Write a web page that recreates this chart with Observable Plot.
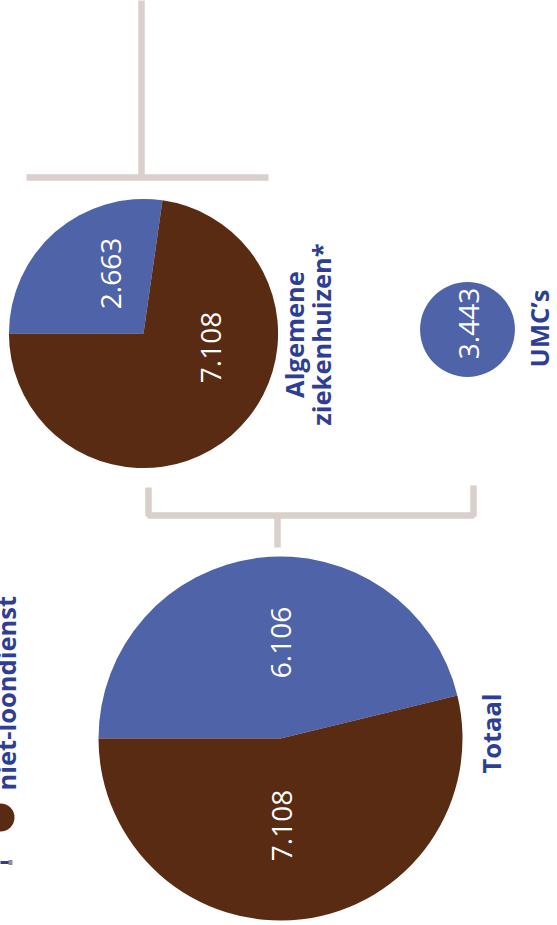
<!DOCTYPE html>
<html><head><meta charset="utf-8">
<script src="https://cdn.jsdelivr.net/npm/d3@7"></script>
<script src="https://cdn.jsdelivr.net/npm/@observablehq/plot@0.6"></script>
<style>
html,body{margin:0;padding:0;background:#fff;overflow:hidden}
#chart svg{display:block}
</style></head><body><div id="chart"></div>
<script>
// ---- data ----
const categories = ["Totaal", "Algemene\nziekenhuizen*", "UMC’s"];
const series = ["loondienst", "niet-loondienst"];
const loondienst = [6106, 2663, 3443];
const nietLoondienst = [7108, 7108, 0];

// ---- styles / layout (not data) ----
const W = 557, H = 925;
const colors = {"loondienst": "#4f63a9", "niet-loondienst": "#592b13"};
const textBlue = "#2e3e95";
const bracketColor = "#d9cfcb";
const layout = {
  "Totaal": {cx: 280, cy: 738, title: [492, 733],
    labels: {"loondienst": [2, -96], "niet-loondienst": [3, 87]}},
  "Algemene\nziekenhuizen*": {cx: 143, cy: 333, title: [308, 334],
    labels: {"loondienst": [-31, -60], "niet-loondienst": [69, 14]}},
  "UMC’s": {cx: 467, cy: 329, title: [540, 328],
    labels: {"loondienst": [3, -6]}}
};

const nl = d3.formatLocale({decimal: ",", thousands: ".", grouping: [3], currency: ["€", ""]});
const fmt = nl.format(",d");

const valuesBySeries = {"loondienst": loondienst, "niet-loondienst": nietLoondienst};
const pie = d3.pie().sort(null).value(d => d.value)
  .startAngle(-Math.PI / 2).endAngle(3 * Math.PI / 2);

const slices = categories.flatMap((c, i) => {
  const parts = series.map(s => ({
    category: c, series: s, value: valuesBySeries[s][i],
    total: loondienst[i] + nietLoondienst[i]
  }));
  return pie(parts).filter(a => a.data.value > 0)
    .map(a => ({...a.data, a0: a.startAngle, a1: a.endAngle}));
});

const sector = (a0, a1) => ({
  draw(ctx, size) {
    const r = Math.sqrt(size / Math.PI);
    if (a1 - a0 >= 2 * Math.PI - 1e-6) {
      ctx.moveTo(r, 0); ctx.arc(0, 0, r, 0, 2 * Math.PI); ctx.closePath(); return;
    }
    ctx.moveTo(0, 0);
    ctx.arc(0, 0, r, a0 - Math.PI / 2, a1 - Math.PI / 2);
    ctx.closePath();
  }
});

// brackets derived from pie layout
const T = layout["Totaal"], A = layout["Algemene\nziekenhuizen*"], U = layout["UMC’s"];
const brackets = [
  [[A.cx - 2, 0], [A.cx - 2, 177]],
  [[A.cx - 117, 177], [A.cx + 125, 177]],
  [[A.cx + 5, 487], [A.cx + 5, 515], [U.cx + 6, 515], [U.cx + 6, 485]],
  [[T.cx - 3, 515], [T.cx - 3, 547]]
].flatMap((b, i) => b.map(p => ({x: p[0], y: p[1], id: i})));

const legendFont = 25.5;

const chart = Plot.plot({
  width: W, height: H, margin: 0,
  x: {domain: [0, W], range: [0, W], axis: null},
  y: {domain: [0, H], range: [0, H], axis: null},
  r: {type: "linear", domain: [0, d3.max(categories, (c, i) => loondienst[i] + nietLoondienst[i])], range: [0, 182]},
  style: {fontFamily: "Open Sans, sans-serif", background: "#fff", overflow: "hidden"},
  marks: [
    Plot.line(brackets, {x: "x", y: "y", z: "id", stroke: bracketColor, strokeWidth: 6.5,
      strokeLinejoin: "miter", strokeLinecap: "butt"}),
    ...slices.map(s => Plot.dot([s], {
      x: d => layout[d.category].cx, y: d => layout[d.category].cy, r: "total",
      symbol: sector(s.a0, s.a1), fill: colors[s.series], stroke: "none"
    })),
    Plot.text(slices, {
      x: d => layout[d.category].cx + layout[d.category].labels[d.series][0],
      y: d => layout[d.category].cy + layout[d.category].labels[d.series][1],
      text: d => fmt(d.value), rotate: -90, fill: "white", fontSize: 28
    }),
    Plot.text(categories, {
      x: c => layout[c].title[0], y: c => layout[c].title[1], text: d => d,
      rotate: -90, fill: textBlue, fontSize: 25.5, fontWeight: "bold", lineHeight: 1.06
    }),
    // legend (cut off at the left edge, as in the reference)
    Plot.dot([series[1]], {x: 0, y: 817, r: 14, fill: d => colors[d], stroke: "none"}),
    Plot.text([series[1]], {x: 15 - 0.32 * legendFont, y: 790, text: d => d, rotate: -90,
      textAnchor: "start", fill: textBlue, fontSize: legendFont, fontWeight: "bold"}),
    Plot.link([series[0]], {x1: 0, x2: 9, y1: 862, y2: 862, stroke: textBlue, strokeWidth: 3}),
    Plot.link([series[0]], {x1: 8, x2: 12, y1: 862, y2: 862, stroke: "#8a8f9c", strokeWidth: 5})
  ]
});
document.getElementById("chart").appendChild(chart);
</script>
</body></html>
